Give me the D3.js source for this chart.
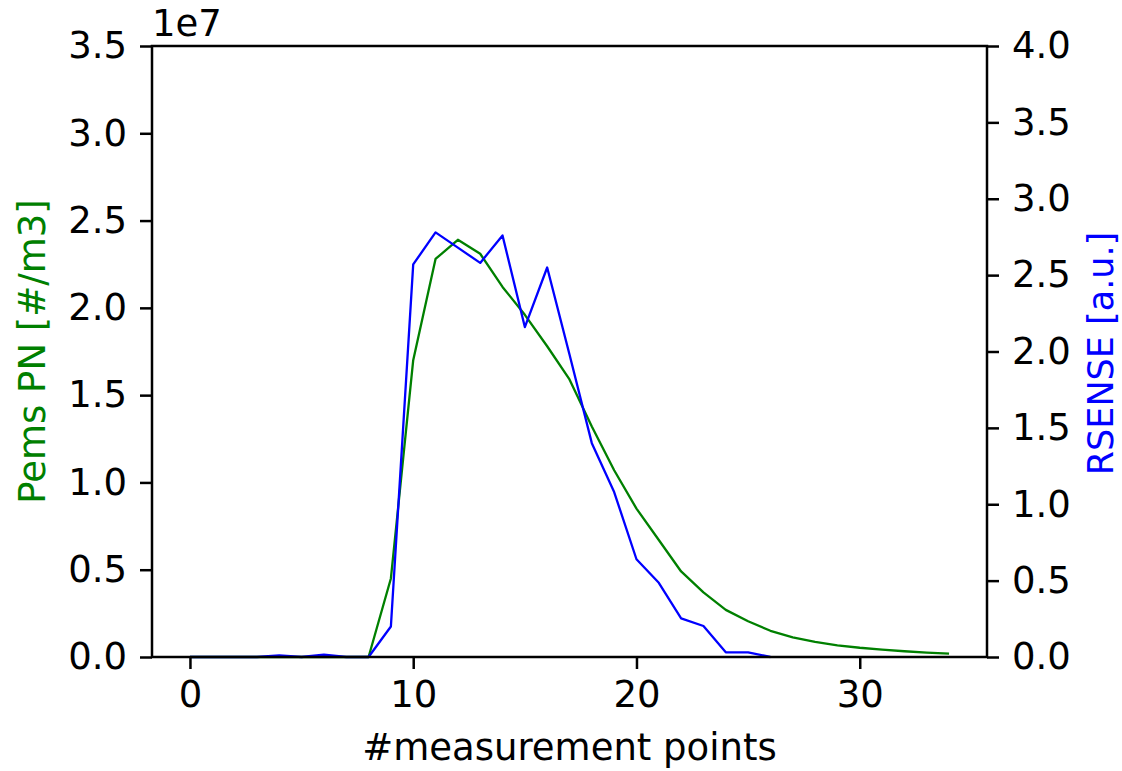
<!DOCTYPE html>
<html>
<head>
<meta charset="utf-8">
<script src="https://cdn.jsdelivr.net/npm/d3@7"></script>
<style>
  html, body { margin: 0; padding: 0; background: #fff; }
  svg text { font-family: "DejaVu Sans", sans-serif; }
</style>
</head>
<body>
<svg id="chart" width="1122" height="771"></svg>
<script>
// measurement index
const points = d3.range(0, 35);
// PEMS particle number, in units of 1e7 #/m3
const pemsPN = [0, 0, 0, 0, 0, 0, 0, 0, 0, 0.45, 1.70, 2.28, 2.39, 2.31, 2.12, 1.96,
  1.78, 1.59, 1.32, 1.07, 0.85, 0.67, 0.49, 0.37, 0.27, 0.205, 0.15, 0.113,
  0.086, 0.067, 0.053, 0.042, 0.033, 0.025, 0.019];
// RSENSE signal, arbitrary units (measurement 0..26)
const rsense = [0, 0, 0, 0, 0.01, 0, 0.015, 0, 0, 0.20, 2.57, 2.78, 2.68, 2.58, 2.76,
  2.16, 2.55, 1.98, 1.40, 1.08, 0.64, 0.486, 0.253, 0.203, 0.031, 0.03, 0];
const xTicks = [0, 10, 20, 30];
const leftTicks = [0, 0.5, 1.0, 1.5, 2.0, 2.5, 3.0, 3.5];
const rightTicks = [0, 0.5, 1.0, 1.5, 2.0, 2.5, 3.0, 3.5, 4.0];

const svg = d3.select("#chart");
const m = { left: 152, right: 987, top: 46, bottom: 657 };
const fs = 37;

const x = d3.scaleLinear().domain([-1.7, 35.7]).range([m.left, m.right]);
const yL = d3.scaleLinear().domain([0, 3.5]).range([m.bottom, m.top]);
const yR = d3.scaleLinear().domain([0, 4.0]).range([m.bottom, m.top]);

const lineG = d3.line().x((d, i) => x(points[i])).y(d => yL(d));
const lineB = d3.line().x((d, i) => x(points[i])).y(d => yR(d));

svg.append("path").datum(pemsPN).attr("d", lineG)
  .attr("fill", "none").attr("stroke", "green").attr("stroke-width", 2.3)
  .attr("stroke-linejoin", "round");
svg.append("path").datum(rsense).attr("d", lineB)
  .attr("fill", "none").attr("stroke", "blue").attr("stroke-width", 2.3)
  .attr("stroke-linejoin", "round");

function styleAxis(g) {
  g.select(".domain").remove();
  g.selectAll(".tick line").attr("stroke", "#000").attr("stroke-width", 2.5);
  g.selectAll(".tick text").attr("font-size", fs).attr("fill", "#000")
    .attr("font-family", "DejaVu Sans, sans-serif");
}

const fmt = d3.format(".1f");
svg.append("g").attr("transform", `translate(0,${m.bottom})`)
  .call(d3.axisBottom(x).tickValues(xTicks).tickSize(12).tickPadding(12).tickFormat(d3.format("d")))
  .call(styleAxis);
svg.append("g").attr("transform", `translate(${m.left},0)`)
  .call(d3.axisLeft(yL).tickValues(leftTicks).tickSize(12).tickPadding(13).tickFormat(fmt))
  .call(styleAxis);
svg.append("g").attr("transform", `translate(${m.right},0)`)
  .call(d3.axisRight(yR).tickValues(rightTicks).tickSize(12).tickPadding(13).tickFormat(fmt))
  .call(styleAxis);

// frame
svg.append("rect").attr("x", m.left).attr("y", m.top)
  .attr("width", m.right - m.left).attr("height", m.bottom - m.top)
  .attr("fill", "none").attr("stroke", "#000").attr("stroke-width", 2.5);

// offset text for left axis
svg.append("text").attr("x", m.left).attr("y", 36).attr("font-size", fs)
  .attr("fill", "#000").text("1e7");

// axis labels
svg.append("text").attr("x", (m.left + m.right) / 2).attr("y", 760)
  .attr("text-anchor", "middle").attr("font-size", fs).attr("fill", "#000")
  .text("#measurement points");
svg.append("text")
  .attr("transform", `translate(45,${(m.top + m.bottom) / 2}) rotate(-90)`)
  .attr("text-anchor", "middle").attr("font-size", fs).attr("fill", "green")
  .text("Pems PN [#/m3]");
svg.append("text")
  .attr("transform", `translate(1113,${(m.top + m.bottom) / 2 + 2}) rotate(-90)`)
  .attr("text-anchor", "middle").attr("font-size", 35).attr("fill", "blue")
  .text("RSENSE [a.u.]");
</script>
</body>
</html>
